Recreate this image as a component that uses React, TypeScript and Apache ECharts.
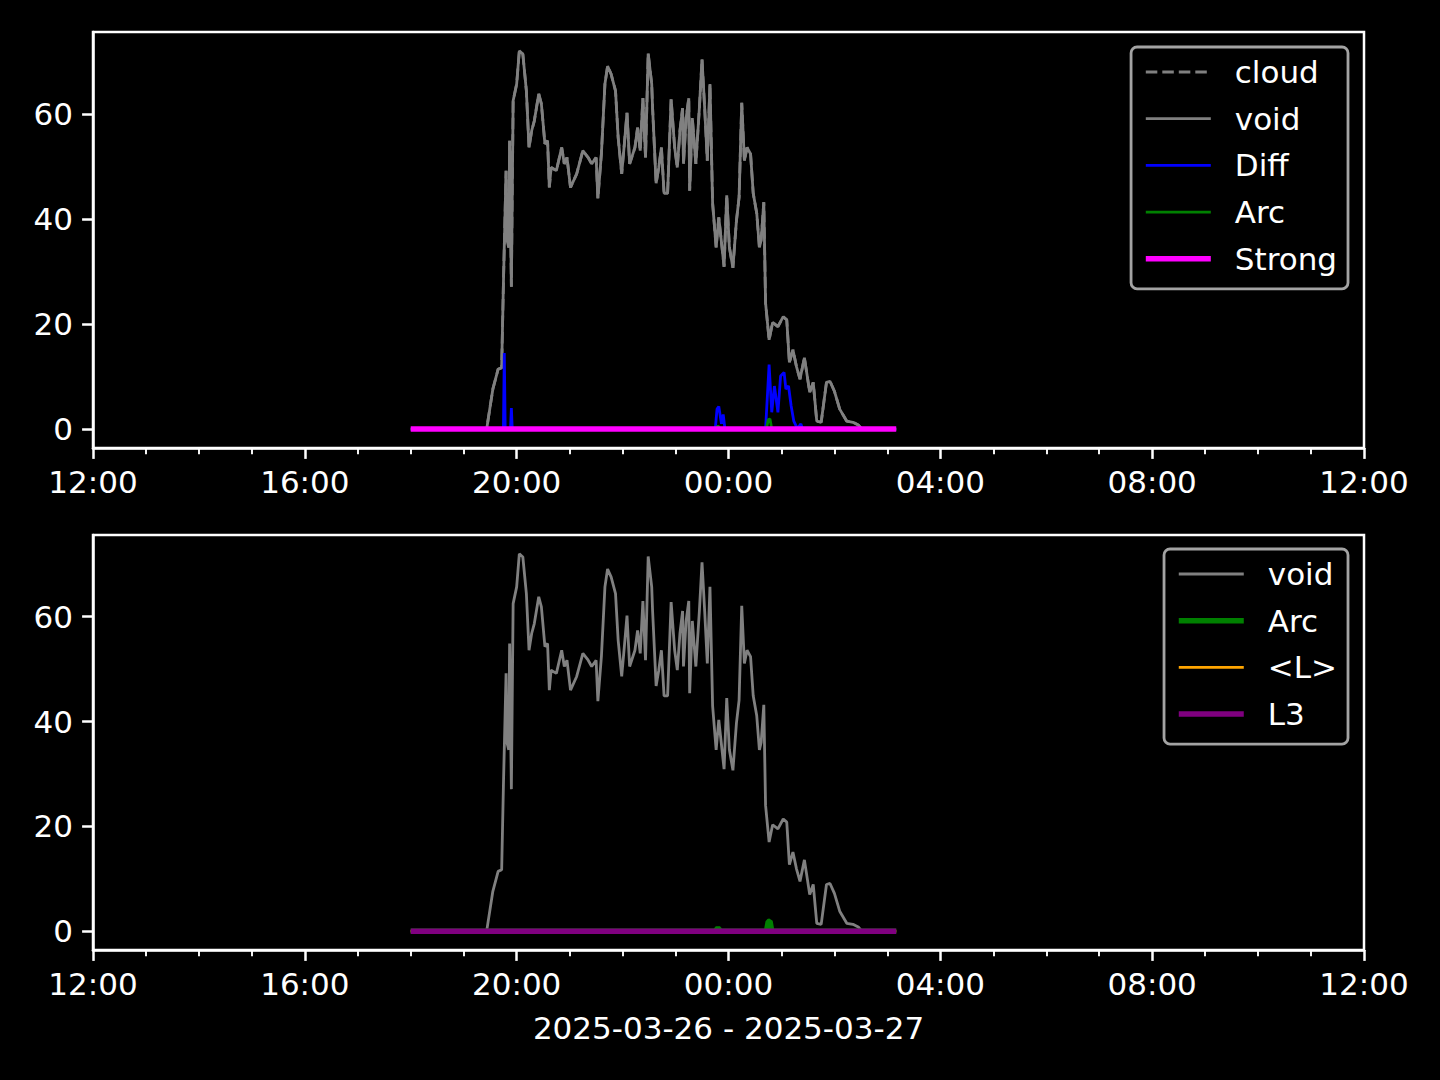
import React, { useEffect, useRef } from "react";
import * as echarts from "echarts";

// ---- Data (times are HH:MM on 2025-03-26 evening / 2025-03-27 morning) ----
const voidTimes = [
  "18:00", "19:26", "19:33", "19:39", "19:43", "19:45", "19:48", "19:49", "19:51", "19:52",
  "19:54", "19:56", "20:00", "20:03", "20:07", "20:11", "20:14", "20:17", "20:20", "20:25",
  "20:28", "20:32", "20:35", "20:37", "20:39", "20:45", "20:51", "20:54", "20:57", "21:01",
  "21:08", "21:15", "21:21", "21:25", "21:30", "21:32", "21:36", "21:40", "21:43", "21:47",
  "21:52", "21:55", "21:59", "22:02", "22:05", "22:08", "22:14", "22:17", "22:20", "22:23",
  "22:26", "22:29", "22:33", "22:34", "22:38", "22:41", "22:44", "22:47", "22:51", "22:55",
  "22:59", "23:02", "23:05", "23:08", "23:09", "23:12", "23:15", "23:16", "23:19", "23:23",
  "23:27", "23:30", "23:33", "23:36", "23:39", "23:42", "23:46", "23:49", "23:55", "23:58",
  "00:01", "00:05", "00:09", "00:12", "00:15", "00:18", "00:21", "00:25", "00:28", "00:32",
  "00:35", "00:37", "00:40", "00:42", "00:46", "00:50", "00:56", "01:02", "01:06", "01:09",
  "01:13", "01:17", "01:21", "01:26", "01:32", "01:36", "01:40", "01:45", "01:51", "01:55",
  "02:00", "02:06", "02:14", "02:21", "02:27", "02:31", "03:10",
];
const voidValues = [
  0, 0, 7.6, 11.4, 11.7, 27.8, 49.2, 36, 34.6, 54.9,
  27.1, 62.5, 65.7, 72.0, 71.4, 64.4, 53.6, 56.8, 58.7, 63.8,
  61.9, 54.3, 54.9, 46, 49.8, 49.2, 53.6, 50.5, 51.7, 46,
  48.6, 53, 51.7, 50.5, 51.7, 43.9, 52.4, 65.7, 69.1, 67.6,
  64.4, 55.5, 48.6, 54.3, 60.2, 50.5, 53.6, 57.4, 53, 63,
  51.7, 71.5, 65.7, 61.1, 46.8, 49.8, 53.6, 44.9, 44.9, 62.8,
  53.6, 49.8, 56.8, 61.1, 50.5, 59.2, 63, 45.4, 59.2, 50.5,
  61.1, 70.4, 61.1, 51.1, 65.7, 43, 34.6, 40.3, 30.9, 44.5,
  34.6, 30.7, 39.7, 44.1, 62.1, 51.1, 53.6, 52.4, 44.9, 41.1,
  34.6, 36, 43.2, 24, 17, 20.3, 19.5, 21.4, 20.8, 12.7,
  15.1, 11.9, 9.5, 13.6, 7, 8.9, 1.5, 1.3, 8.9, 9.1,
  7.2, 3.8, 1.5, 1.3, 0.8, 0, 0,
];
// the dashed "cloud" curve coincides with "void" in the reference
const cloudTimes = voidTimes;
const cloudValues = voidValues;

const diffTimes = [
  "18:00", "19:45", "19:46", "19:47", "19:53", "19:54", "19:55", "23:45", "23:47", "23:49",
  "23:52", "23:54", "23:56", "00:42", "00:46", "00:49", "00:52", "00:56", "00:59", "01:03",
  "01:05", "01:08", "01:11", "01:14", "01:18", "01:22", "01:24", "03:10",
];
const diffValues = [
  0, 0, 14.5, 0, 0, 4, 0, 0, 3.8, 4.3,
  1, 2.8, 0, 0, 12.3, 3.2, 8.2, 3.2, 10.1, 10.8,
  7.6, 8.2, 4.4, 1.5, 0.1, 1, 0, 0,
];

const arcTimes = ["18:00", "23:45", "23:48", "23:51", "00:43", "00:45", "00:47", "00:49", "03:10"];
const arcValues = [0, 0, 0.6, 0, 0, 1.8, 1.9, 0, 0];

const flatTimes = ["18:00", "03:10"];
const strongValues = [0, 0];
const meanLValues = [0, 0];
const l3Values = [0, 0];

const yTickValues = [0, 20, 40, 60];
const dateLabel = "2025-03-26 - 2025-03-27";

// ---- helpers ----
const HOUR = 3600 * 1000;
const X_MIN = Date.UTC(2025, 2, 26, 12, 0);
const X_MAX = Date.UTC(2025, 2, 27, 12, 0);

function ts(hm: string): number {
  const [h, m] = hm.split(":").map(Number);
  const day = h < 12 ? 27 : 26;
  return Date.UTC(2025, 2, day, h, m);
}
function pairs(times: string[], values: number[]) {
  return times.map((t, i) => [ts(t), values[i]]);
}
function fmtTime(v: number): string {
  const d = new Date(v);
  const hh = String(d.getUTCHours()).padStart(2, "0");
  const mm = String(d.getUTCMinutes()).padStart(2, "0");
  return `${hh}:${mm}`;
}

const FONT = "DejaVu Sans";
const FS = 31;
const WHITE = "#ffffff";
const GRAY = "#808080";

function xAxis(gridIndex: number, withName: boolean) {
  return {
    type: "value",
    gridIndex,
    min: X_MIN,
    max: X_MAX,
    interval: 4 * HOUR,
    axisLine: { show: true, onZero: false, lineStyle: { color: WHITE, width: 2.5 } },
    axisTick: { show: true, length: 10.9, lineStyle: { color: WHITE, width: 2.5 } },
    minorTick: { show: true, splitNumber: 4, length: 6.25, lineStyle: { color: WHITE, width: 1.9 } },
    splitLine: { show: false },
    minorSplitLine: { show: false },
    axisLabel: {
      color: WHITE,
      fontSize: FS,
      fontFamily: FONT,
      margin: 18,
      formatter: (v: number) => fmtTime(v),
      showMinLabel: true,
      showMaxLabel: true,
      hideOverlap: false,
    },
    name: withName ? dateLabel : "",
    nameLocation: "middle",
    nameGap: 62,
    nameTextStyle: { color: WHITE, fontSize: FS, fontFamily: FONT },
  };
}

function yAxis(gridIndex: number) {
  return {
    type: "value",
    gridIndex,
    min: -3.6,
    max: 75.6,
    axisLine: { show: true, onZero: false, lineStyle: { color: WHITE, width: 2.5 } },
    axisTick: { show: true, length: 10.9, lineStyle: { color: WHITE, width: 2.5 }, customValues: yTickValues },
    splitLine: { show: false },
    axisLabel: {
      color: WHITE,
      fontSize: FS,
      fontFamily: FONT,
      margin: 20,
      customValues: yTickValues,
    },
  };
}

function line(name: string, data: number[][], idx: number, color: string, width: number, type: any = "solid") {
  return {
    type: "line",
    name,
    data,
    xAxisIndex: idx,
    yAxisIndex: idx,
    showSymbol: false,
    symbol: "none",
    silent: true,
    lineStyle: { color, width, type },
    itemStyle: { color },
    emphasis: { disabled: true },
  };
}

function legendBase(top: number) {
  return {
    orient: "vertical",
    right: 92,
    top,
    padding: [9.5, 11, 14.5, 12],
    itemWidth: 65,
    itemHeight: 31,
    itemGap: 15.7,
    borderColor: "#a3a3a3",
    borderWidth: 2.8,
    borderRadius: 6,
    backgroundColor: "#000000",
    selectedMode: false,
    textStyle: { color: WHITE, fontSize: FS, fontFamily: FONT, padding: [0, 0, 0, 19], lineHeight: 31 },
  };
}

function legendItem(name: string, color: string, width: number, type: any = "solid") {
  return {
    name,
    lineStyle: { width, type, color },
    itemStyle: { opacity: 0, color: "transparent", borderWidth: 0 },
  };
}

export default function App() {
  const ref = useRef<HTMLDivElement>(null);
  useEffect(() => {
    document.body.style.margin = "0";
    document.body.style.background = "#000";
    if (!ref.current) return;
    const chart = echarts.init(ref.current, null, { renderer: "svg" });
    const dash = [11.5, 5];
    chart.setOption({
      animation: false,
      backgroundColor: "#000000",
      textStyle: { fontFamily: FONT },
      grid: [
        { left: 93, right: 76, top: 32, height: 416, show: true, borderColor: WHITE, borderWidth: 2.5, backgroundColor: "transparent" },
        { left: 93, right: 76, top: 535, height: 415, show: true, borderColor: WHITE, borderWidth: 2.5, backgroundColor: "transparent" },
      ],
      xAxis: [xAxis(0, false), xAxis(1, true)],
      yAxis: [yAxis(0), yAxis(1)],
      legend: [
        {
          ...legendBase(47),
          data: [
            legendItem("cloud", GRAY, 2.8, dash),
            legendItem("void", GRAY, 2.8),
            legendItem("Diff", "#0000ff", 2.8),
            legendItem("Arc", "#008000", 2.8),
            legendItem("Strong", "#ff00ff", 5.5),
          ],
        },
        {
          ...legendBase(549),
          data: [
            legendItem("void", GRAY, 2.8),
            legendItem("Arc", "#008000", 5.5),
            legendItem("<L>", "#ffa500", 2.8),
            legendItem("L3", "#800080", 5.5),
          ],
        },
      ],
      series: [
        line("cloud", pairs(cloudTimes, cloudValues), 0, GRAY, 2.8, dash),
        line("void", pairs(voidTimes, voidValues), 0, GRAY, 2.8),
        line("Diff", pairs(diffTimes, diffValues), 0, "#0000ff", 2.8),
        line("Arc", pairs(arcTimes, arcValues), 0, "#008000", 2.8),
        line("Strong", pairs(flatTimes, strongValues), 0, "#ff00ff", 5.5),
        line("void", pairs(voidTimes, voidValues), 1, GRAY, 2.8),
        line("Arc", pairs(arcTimes, arcValues), 1, "#008000", 5.5),
        line("<L>", pairs(flatTimes, meanLValues), 1, "#ffa500", 2.8),
        line("L3", pairs(flatTimes, l3Values), 1, "#800080", 5.5),
      ],
    });
    return () => chart.dispose();
  }, []);
  return <div ref={ref} style={{ width: 1440, height: 1080 }} />;
}
